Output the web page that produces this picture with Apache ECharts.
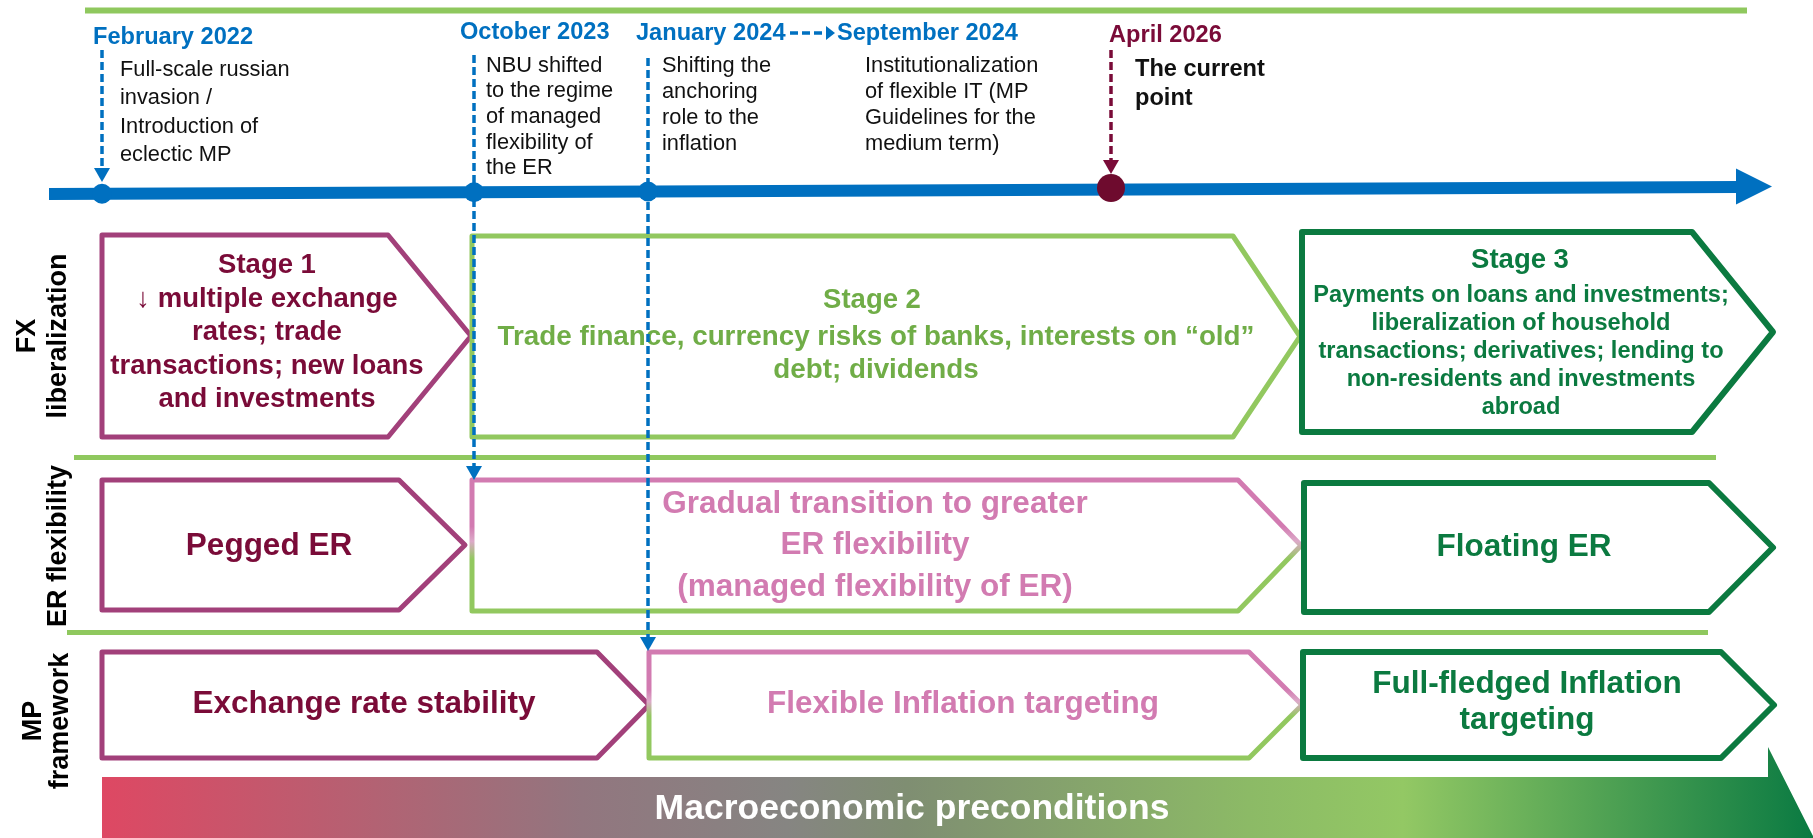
<!DOCTYPE html>
<html>
<head>
<meta charset="utf-8">
<script src="https://cdn.jsdelivr.net/npm/echarts@6/dist/echarts.min.js"></script>
<style>html,body{margin:0;padding:0;background:#fff;}</style>
</head>
<body>
<div id="main" style="width:1813px;height:838px;"></div>
<script type="text/javascript">
// ---------- data (texts of the diagram) ----------
var eventDates = ['February 2022', 'October 2023', 'January 2024', 'September 2024', 'April 2026'];
var eventNotes = [
    'Full-scale russian\ninvasion /\nIntroduction of\neclectic MP',
    'NBU shifted\nto the regime\nof managed\nflexibility of\nthe ER',
    'Shifting the\nanchoring\nrole to the\ninflation',
    'Institutionalization\nof flexible IT (MP\nGuidelines for the\nmedium term)',
    'The current\npoint'
];
var rowNames = ['FX\nliberalization', 'ER flexibility', 'MP\nframework'];
var stageTitles = ['Stage 1', 'Stage 2', 'Stage 3'];
var fxStages = [
    '\u2193 multiple exchange\nrates; trade\ntransactions; new loans\nand investments',
    'Trade finance, currency risks of banks, interests on \u201cold\u201d\ndebt; dividends',
    'Payments on loans and investments;\nliberalization of household\ntransactions; derivatives; lending to\nnon-residents and investments\nabroad'
];
var erStages = ['Pegged ER', 'Gradual transition to greater\nER flexibility\n(managed flexibility of ER)', 'Floating ER'];
var mpStages = ['Exchange rate stability', 'Flexible Inflation targeting', 'Full-fledged Inflation\ntargeting'];
var footerText = 'Macroeconomic preconditions';

// ---------- layout (diagram units = px) ----------
var FONT = '"Liberation Sans", Arial, sans-serif';
var BLUE = '#0070c0', MAROON = '#a2407a', MAROON_T = '#7a0b38', PINK = '#d27bb1',
    LGREEN = '#92c85f', LGREEN_T = '#70ad47', DGREEN = '#0b7a40';

var eventDotX = [102, 474, 648, null, 1111];
var eventLabelX = [93, 460, 636, 837, 1109];
var eventLabelY = [37, 32.5, 33.5, 33.5, 35];
var eventNoteX = [120, 486, 662, 865, 1135];
var eventNoteY = [69.5, 65.5, 65.5, 65.5, 69];
var eventNoteLH = [28.5, 25.7, 26, 26, 29];
var eventArrows = [
    { x: 102, y0: 50, y1: 182, c: BLUE },
    { x: 474, y0: 55, y1: 480, c: BLUE },
    { x: 648, y0: 58, y1: 651, c: BLUE },
    { x: 1111, y0: 50, y1: 174, c: '#7a0b38' }
];

// boxes: [left, corner, tip, top, bottom]
var boxGeo = [
    [102, 388, 471, 235, 437], [472, 1233, 1300, 236, 437], [1302, 1692, 1773, 232, 432],
    [102, 399, 465, 480, 610], [472, 1238, 1301, 480, 611], [1304, 1709, 1773, 483, 612],
    [102, 597, 649, 652, 758], [649, 1249, 1302, 652, 758], [1303, 1721, 1774, 652, 758]
];
var boxKind = ['m', 'g', 'd', 'm', 'pg', 'd', 'm', 'pg', 'd'];

var chart = echarts.init(document.getElementById('main'));

function strokeOf(kind) {
    if (kind === 'm') return MAROON;
    if (kind === 'g') return LGREEN;
    if (kind === 'd') return DGREEN;
    return new echarts.graphic.LinearGradient(0, 0, 0, 1, [
        { offset: 0, color: PINK }, { offset: 0.36, color: PINK },
        { offset: 0.47, color: '#dcaac8' }, { offset: 0.6, color: LGREEN }, { offset: 1, color: LGREEN }
    ]);
}

function txt(api, s, x, y, font, fill, align, lh, vAlign, rot) {
    var p = api.coord([x, y]);
    return {
        type: 'text', x: p[0], y: p[1], rotation: rot || 0,
        style: {
            text: s, font: font, fill: fill, align: align, textAlign: align,
            verticalAlign: vAlign || 'top', textVerticalAlign: vAlign || 'top', lineHeight: lh
        }
    };
}
// first line centred on y
function txtLines(api, s, x, y, size, bold, fill, align, lh) {
    return txt(api, s, x, y - lh / 2, (bold ? 'bold ' : '') + size + 'px ' + FONT, fill, align, lh, 'top');
}

function renderBoxes(params, api) {
    var b = boxGeo[params.dataIndex];
    var mid = (b[3] + b[4]) / 2;
    var pts = [[b[0], b[3]], [b[1], b[3]], [b[2], mid], [b[1], b[4]], [b[0], b[4]]].map(function (q) { return api.coord(q); });
    var k = boxKind[params.dataIndex];
    return {
        type: 'polygon', shape: { points: pts },
        style: { fill: '#fff', stroke: strokeOf(k), lineWidth: k === 'd' ? 6 : 5, lineJoin: 'round' }
    };
}

function renderTexts(params, api) {
    var ch = [];
    // row names (rotated)
    ch.push(txt(api, rowNames[0], 43, 336, 'bold 27px ' + FONT, '#000', 'center', 31, 'middle', Math.PI / 2));
    ch.push(txt(api, rowNames[1], 59, 546, 'bold 27px ' + FONT, '#000', 'center', 31, 'middle', Math.PI / 2));
    ch.push(txt(api, rowNames[2], 47, 721, 'bold 27px ' + FONT, '#000', 'center', 27, 'middle', Math.PI / 2));
    // FX row
    ch.push(txtLines(api, stageTitles[0] + '\n' + fxStages[0], 267, 265.5, 27.5, true, MAROON_T, 'center', 33.6));
    ch.push(txtLines(api, stageTitles[1], 872, 300.5, 27.5, true, LGREEN_T, 'center', 34));
    ch.push(txtLines(api, fxStages[1], 876, 337, 27.8, true, LGREEN_T, 'center', 33.5));
    ch.push(txtLines(api, stageTitles[2], 1520, 260, 27.5, true, DGREEN, 'center', 30));
    ch.push(txtLines(api, fxStages[2], 1521, 295, 23.6, true, DGREEN, 'center', 28));
    // ER row
    ch.push(txtLines(api, erStages[0], 269, 546, 31.5, true, MAROON_T, 'center', 36));
    ch.push(txtLines(api, erStages[1], 875, 504, 31.5, true, PINK, 'center', 41.5));
    ch.push(txtLines(api, erStages[2], 1524, 547, 31.5, true, DGREEN, 'center', 36));
    // MP row
    ch.push(txtLines(api, mpStages[0], 364, 704, 31.5, true, MAROON_T, 'center', 36));
    ch.push(txtLines(api, mpStages[1], 963, 704, 31.5, true, PINK, 'center', 36));
    ch.push(txtLines(api, mpStages[2], 1527, 684, 31.5, true, DGREEN, 'center', 36.7));
    return { type: 'group', children: ch };
}

function arrowDown(api, a) {
    var hh = 15, hw = 16;
    var s = api.coord([a.x, a.y0]), e = api.coord([a.x, a.y1 - hh + 1]), t = api.coord([a.x, a.y1]);
    return [
        { type: 'line', shape: { x1: s[0], y1: s[1], x2: e[0], y2: e[1] }, style: { stroke: a.c, lineWidth: 3.5, lineDash: [8, 4] } },
        { type: 'polygon', shape: { points: [[t[0] - hw / 2, e[1]], [t[0] + hw / 2, e[1]], [t[0], t[1]]] }, style: { fill: a.c } }
    ];
}

function renderTimeline(params, api) {
    var ch = [];
    // top green rule and row separators
    [[85, 1747, 10.5, 6], [74, 1716, 457.5, 5], [67, 1708, 632.5, 5]].forEach(function (r) {
        var a = api.coord([r[0], r[2]]), b = api.coord([r[1], r[2]]);
        ch.push({ type: 'line', shape: { x1: a[0], y1: a[1], x2: b[0], y2: b[1] }, style: { stroke: '#8fc85e', lineWidth: r[3] } });
    });
    // footer gradient arrow
    var fp = [[102, 777], [1768, 777], [1768, 747], [1814, 838], [1768, 929], [1768, 899], [102, 899]].map(function (q) { return api.coord(q); });
    ch.push({
        type: 'polygon', shape: { points: fp },
        style: {
            fill: new echarts.graphic.LinearGradient(0, 0, 1, 0, [
                { offset: 0, color: '#de4863' }, { offset: 0.28, color: '#92767f' }, { offset: 0.4, color: '#868582' },
                { offset: 0.47, color: '#7f8e72' }, { offset: 0.67, color: '#8cba66' }, { offset: 0.76, color: '#93c864' },
                { offset: 1, color: '#0a7a42' }
            ])
        }
    });
    ch.push(txt(api, footerText, 912, 809, 'bold 35.5px ' + FONT, '#fff', 'center', 40, 'middle'));
    return { type: 'group', children: ch };
}

function renderEvents(params, api) {
    var ch = [];
    // main timeline arrow
    var a = api.coord([49, 194]), b = api.coord([1738, 187]);
    ch.push({ type: 'line', shape: { x1: a[0], y1: a[1], x2: b[0], y2: b[1] }, style: { stroke: BLUE, lineWidth: 12 } });
    var h = [[1736, 168.5], [1772, 186.5], [1736, 204.5]].map(function (q) { return api.coord(q); });
    ch.push({ type: 'polygon', shape: { points: h }, style: { fill: BLUE } });
    // dashed arrows
    eventArrows.forEach(function (ar) { ch = ch.concat(arrowDown(api, ar)); });
    // Jan -> Sep arrow
    var s1 = api.coord([790, 33]), s2 = api.coord([826, 33]), s3 = api.coord([835, 33]);
    ch.push({ type: 'line', shape: { x1: s1[0], y1: s1[1], x2: s2[0], y2: s2[1] }, style: { stroke: BLUE, lineWidth: 3.5, lineDash: [8, 4] } });
    ch.push({ type: 'polygon', shape: { points: [[s2[0], s2[1] - 7], [s3[0], s3[1]], [s2[0], s2[1] + 7]] }, style: { fill: BLUE } });
    // labels, notes, dots
    for (var i = 0; i < eventDates.length; i++) {
        var last = i === eventDates.length - 1;
        ch.push(txt(api, eventDates[i], eventLabelX[i], eventLabelY[i], 'bold 23.6px ' + FONT, last ? MAROON_T : BLUE, 'left', 28, 'middle'));
        ch.push(txtLines(api, eventNotes[i], eventNoteX[i], eventNoteY[i], last ? 23.6 : 21.8, last, '#111', 'left', eventNoteLH[i]));
        if (eventDotX[i] !== null) {
            var y = last ? 188 : 194 - (eventDotX[i] - 49) * 7 / 1689;
            var c = api.coord([eventDotX[i], y]);
            ch.push({ type: 'circle', shape: { cx: c[0], cy: c[1], r: last ? 14 : 10 }, style: { fill: last ? '#6e0b2e' : BLUE } });
        }
    }
    return { type: 'group', children: ch };
}

var option = {
    animation: false,
    backgroundColor: '#fff',
    grid: { left: 0, right: 0, top: 0, bottom: 0 },
    xAxis: { type: 'value', min: 0, max: 1813, show: false },
    yAxis: { type: 'value', min: 0, max: 838, inverse: true, show: false },
    series: [
        { type: 'custom', z: 1, renderItem: renderTimeline, data: [[0, 0]], silent: true },
        { type: 'custom', z: 2, renderItem: renderBoxes, data: boxGeo.map(function (b) { return [b[0], b[3]]; }), silent: true },
        { type: 'custom', z: 3, renderItem: renderTexts, data: [[0, 0]], silent: true },
        { type: 'custom', z: 4, renderItem: renderEvents, data: [[0, 0]], silent: true }
    ]
};
chart.setOption(option);
</script>
</body>
</html>
